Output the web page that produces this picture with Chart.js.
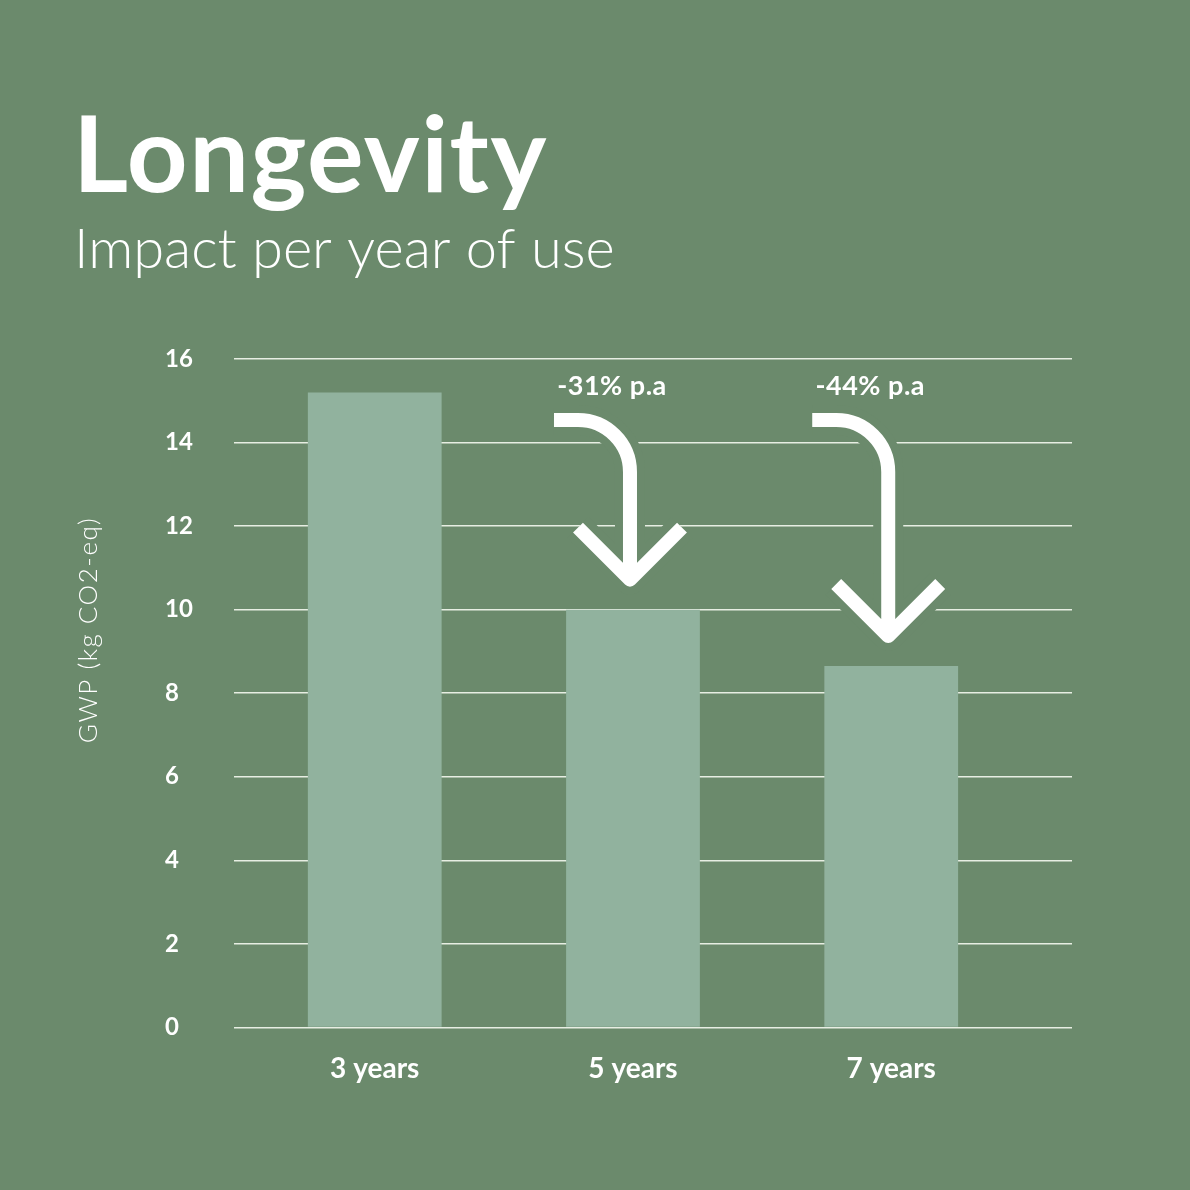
<!DOCTYPE html>
<html>
<head>
<meta charset="utf-8">
<script src="https://cdn.jsdelivr.net/npm/chart.js@4.4.1/dist/chart.umd.min.js"></script>
<style>
    html, body { margin: 0; padding: 0; background: #6b8a6c; }
    #wrap { width: 1190px; height: 1190px; position: relative; }
</style>
</head>
<body>
<div id="wrap"><canvas id="chart" width="1190" height="1190"></canvas></div>
<script>
const categories = ['3 years', '5 years', '7 years'];
const years = [3, 5, 7];
const gwpValues = [15.2, 10.0, 8.65];
const changeLabels = ['', '-31% p.a', '-44% p.a'];
const yTickValues = [0, 2, 4, 6, 8, 10, 12, 14, 16];

const BG = '#6b8a6c';
const FONT = 'Lato, "Open Sans", sans-serif';

// titles, axis label and the arrows with their % labels
const decor = {
    id: 'decor',
    afterDraw(chart) {
        const ctx = chart.ctx;
        const top = chart.chartArea.top;
        ctx.save();
        ctx.fillStyle = '#fff';
        ctx.textAlign = 'left';
        ctx.textBaseline = 'alphabetic';
        ctx.font = '700 106px ' + FONT;
        ctx.letterSpacing = '1.5px';
        ctx.fillText('Longevity', 73, 192);
        ctx.font = '300 56px ' + FONT;
        ctx.letterSpacing = '0px';
        ctx.fillText('Impact per year of use', 74, 268);

        ctx.save();
        ctx.translate(89, 630);
        ctx.rotate(-Math.PI / 2);
        ctx.textAlign = 'center';
        ctx.textBaseline = 'middle';
        ctx.font = '300 26px ' + FONT;
        ctx.letterSpacing = '1.5px';
        ctx.fillText('GWP (kg CO2-eq)', 0, 0);
        ctx.restore();

        const bars = chart.getDatasetMeta(0).data;
        changeLabels.forEach((label, i) => {
            if (!label) return;
            const cx = bars[i].x - 3;
            const tipY = bars[i].y - 30;
            const y0 = top + 61;
            const r = 52;
            const arm = 52;

            const path = () => {
                ctx.beginPath();
                ctx.moveTo(cx - 76, y0);
                ctx.lineTo(cx - r, y0);
                ctx.arcTo(cx, y0, cx, y0 + r, r);
                ctx.lineTo(cx, tipY);
                ctx.moveTo(cx - arm, tipY - arm);
                ctx.lineTo(cx, tipY);
                ctx.lineTo(cx + arm, tipY - arm);
            };
            ctx.lineJoin = 'round';
            ctx.lineCap = 'butt';
            ctx.strokeStyle = BG;
            ctx.lineWidth = 30;
            path();
            ctx.stroke();
            ctx.strokeStyle = '#fff';
            ctx.lineWidth = 14;
            path();
            ctx.stroke();

            ctx.fillStyle = '#fff';
            ctx.font = '700 27px ' + FONT;
            ctx.letterSpacing = '0.5px';
            ctx.textAlign = 'center';
            ctx.textBaseline = 'middle';
            ctx.fillText(label, cx - 18, top + 27);
        });
        ctx.restore();
    }
};

const ctx = document.getElementById('chart').getContext('2d');
new Chart(ctx, {
    type: 'bar',
    data: {
        datasets: [
            {
                label: 'GWP',
                data: gwpValues.map((v, i) => ({ x: years[i], y: v })),
                backgroundColor: '#91b29e',
                borderWidth: 0,
                barPercentage: 0.518,
                categoryPercentage: 1,
            },
        ],
    },
    options: {
        responsive: false,
        animation: false,
        layout: { padding: { left: 165, right: 118, top: 359, bottom: 87 } },
        plugins: {
            legend: { display: false },
            tooltip: { enabled: false },
        },
        scales: {
            x: {
                type: 'linear',
                offset: false,
                min: 1.91,
                max: 8.4,
                grid: { display: false, offset: false },
                border: { display: false },
                afterBuildTicks: (scale) => {
                    scale.ticks = years.map((v) => ({ value: v }));
                },
                ticks: {
                    color: '#fff',
                    font: { family: FONT, size: 28, weight: '700' },
                    padding: 17,
                    maxRotation: 0,
                    autoSkip: false,
                    callback: (v) => categories[years.indexOf(v)],
                },
            },
            y: {
                min: 0,
                max: 16,
                z: 1,
                afterBuildTicks: (scale) => {
                    scale.ticks = yTickValues.map((v) => ({ value: v }));
                },
                afterFit: (scale) => {
                    scale.width = 69;
                },
                grid: { color: 'rgba(238,243,234,0.95)', lineWidth: 1.5, drawTicks: false },
                border: { display: false },
                ticks: {
                    color: '#fff',
                    crossAlign: 'far',
                    padding: 0,
                    font: { family: FONT, size: 24, weight: '700' },
                },
            },
        },
    },
    plugins: [decor],
});
</script>
</body>
</html>
